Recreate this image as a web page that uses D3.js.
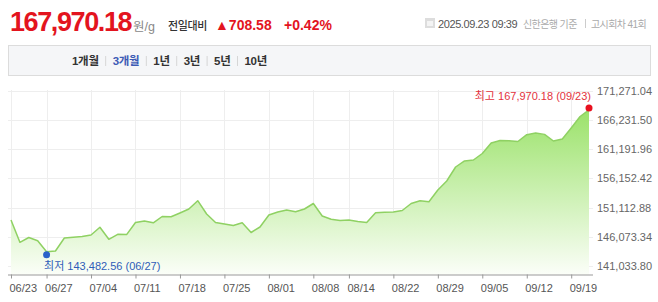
<!DOCTYPE html>
<html lang="ko">
<head>
<meta charset="utf-8">
<script src="https://cdn.jsdelivr.net/npm/d3@7"></script>
<style>
  body { margin: 0; background: #fff; }
  svg { display: block; font-family: "Liberation Sans", Arial, "Noto Sans CJK KR", sans-serif; }
</style>
</head>
<body>
<svg id="chart"></svg>
<script>
// Données : jours de cotation et prix (원/g)
const dates = [
  "06/23","06/24","06/25","06/26","06/27","06/30",
  "07/01","07/02","07/03","07/04","07/07","07/08","07/09","07/10","07/11","07/14","07/15","07/16","07/17","07/18",
  "07/21","07/22","07/23","07/24","07/25","07/28","07/29","07/30","07/31",
  "08/01","08/04","08/05","08/06","08/07","08/08","08/11","08/12","08/13","08/14","08/18","08/19","08/20","08/21","08/22",
  "08/25","08/26","08/27","08/28","08/29",
  "09/01","09/02","09/03","09/04","09/05","09/08","09/09","09/10","09/11","09/12","09/15","09/16","09/17","09/18","09/19",
  "09/22","09/23"
];
const prices = [
  148973.40, 145124.20, 145953.10, 145401.60, 143482.56, 143623.90,
  145867.30, 145987.50, 146125.80, 146384.20, 147713.60, 145642.10, 146505.30, 146450.70, 148542.90, 148801.40,
  148480.20, 149577.60, 149525.10, 150181.30, 150872.50, 152304.80, 150009.40, 148542.60, 148283.20, 148024.70,
  148507.30, 146816.90, 147765.40, 149836.20, 150354.80, 150699.10, 150406.50, 150872.30, 151821.60, 149664.20,
  149094.70, 148887.30, 148973.80, 148714.20, 148542.50, 150233.90, 150302.40, 150350.10, 150613.70, 151821.20,
  152304.60, 152132.90, 154151.30, 155704.80, 158120.40, 159156.20, 159329.70, 160450.10, 162263.80, 162694.30,
  162650.90, 162521.40, 163695.20, 163988.60, 163750.10, 162608.30, 162953.70, 164851.40, 166836.20, 167970.18
];
const yTicks = [141033.80, 146073.34, 151112.88, 156152.42, 161191.96, 166231.50, 171271.04];
const xTickLabels = ["06/23","06/27","07/04","07/11","07/18","07/25","08/01","08/08","08/14","08/22","08/29","09/05","09/12","09/19"];
const tabs = ["1개월", "3개월", "1년", "3년", "5년", "10년"];
const activeTab = "3개월";

// En-tête
const current = "167,970.18", change = "▲708.58", changePct = "+0.42%";
const stamp = "2025.09.23 09:39", source = "신한은행 기준", round = "고시회차 41회";

const width = 658, height = 302;
const svg = d3.select("#chart").attr("width", width).attr("height", height);
const red = "#e3141e";

svg.append("text").attr("x", 10).attr("y", 31)
  .attr("font-size", 27).attr("font-weight", "bold").attr("letter-spacing", -1.4)
  .attr("fill", red).text(current);
svg.append("text").attr("x", 133).attr("y", 31)
  .attr("font-size", 12.5).attr("fill", "#888").text("원/g");
svg.append("text").attr("x", 168).attr("y", 30)
  .attr("font-size", 11).attr("font-weight", 500).attr("letter-spacing", -0.4)
  .attr("fill", "#333").text("전일대비");
svg.append("text").attr("x", 215).attr("y", 30)
  .attr("font-size", 14).attr("font-weight", "bold").attr("fill", red).text(change);
svg.append("text").attr("x", 284).attr("y", 30)
  .attr("font-size", 14).attr("font-weight", "bold").attr("fill", red).text(changePct);

// Petite icône + date
const icon = svg.append("g").attr("transform", "translate(425,18)");
icon.append("rect").attr("width", 10).attr("height", 10).attr("fill", "#ddd");
icon.append("rect").attr("x", 2).attr("y", 3).attr("width", 6).attr("height", 5).attr("fill", "#f4f4f4");
svg.append("text").attr("x", 438).attr("y", 28)
  .attr("font-size", 11).attr("letter-spacing", -0.4).attr("fill", "#555").text(stamp);
svg.append("text").attr("x", 523).attr("y", 28)
  .attr("font-size", 10).attr("letter-spacing", -0.6).attr("fill", "#aaa").text(source);
svg.append("line").attr("x1", 585.5).attr("x2", 585.5).attr("y1", 19).attr("y2", 28)
  .attr("stroke", "#ccc");
svg.append("text").attr("x", 591).attr("y", 28)
  .attr("font-size", 10).attr("letter-spacing", -0.6).attr("fill", "#aaa").text(round);

// Barre d'onglets
svg.append("rect").attr("x", 8.5).attr("y", 45.5).attr("width", 642).attr("height", 30)
  .attr("fill", "#f5f6f8").attr("stroke", "#dcdcdc");
let tx = 72;
tabs.forEach((t, i) => {
  const el = svg.append("text").attr("x", tx).attr("y", 65)
    .attr("font-size", 11.5).attr("font-weight", "bold").attr("letter-spacing", -0.3)
    .attr("fill", t === activeTab ? "#3d5bb5" : "#333").text(t);
  tx += el.node().getComputedTextLength();
  if (i < tabs.length - 1) {
    svg.append("line").attr("x1", tx + 7).attr("x2", tx + 7).attr("y1", 56).attr("y2", 66)
      .attr("stroke", "#d6d6d6");
    tx += 14;
  }
});

// Échelles
const x = d3.scalePoint().domain(dates).range([11, 589]);
const y = d3.scaleLinear().domain([yTicks[0], yTicks[yTicks.length - 1]]).range([266, 90.8]);
const axisY = 274.5, plotTop = 90, plotLeft = 8, plotRight = 593;
const fmt = d3.format(",.2f");

// Grille
svg.append("g").selectAll("line").data(yTicks).enter().append("line")
  .attr("x1", plotLeft).attr("x2", plotRight)
  .attr("y1", d => Math.round(y(d)) + 0.5).attr("y2", d => Math.round(y(d)) + 0.5)
  .attr("stroke", "#eeeeee");
svg.append("g").selectAll("line").data(xTickLabels).enter().append("line")
  .attr("x1", d => Math.round(x(d)) + 0.5).attr("x2", d => Math.round(x(d)) + 0.5)
  .attr("y1", plotTop).attr("y2", axisY)
  .attr("stroke", "#eeeeee");

// Zone + ligne
const defs = svg.append("defs");
const grad = defs.append("linearGradient").attr("id", "fillGrad")
  .attr("gradientUnits", "userSpaceOnUse")
  .attr("x1", 0).attr("x2", 0).attr("y1", y(d3.max(prices))).attr("y2", axisY);
grad.append("stop").attr("offset", "0%").attr("stop-color", "#9be26a");
grad.append("stop").attr("offset", "100%").attr("stop-color", "#fbfef8");

svg.append("path").datum(prices)
  .attr("fill", "url(#fillGrad)")
  .attr("d", d3.area().x((d, i) => x(dates[i])).y0(axisY).y1(d => y(d)));
svg.append("path").datum(prices)
  .attr("fill", "none").attr("stroke", "#8fd163").attr("stroke-width", 1.5)
  .attr("stroke-linejoin", "round")
  .attr("d", d3.line().x((d, i) => x(dates[i])).y(d => y(d)));

// Axe du bas
const xAxis = svg.append("g").attr("transform", `translate(0,${axisY})`)
  .call(d3.axisBottom(x).tickValues(xTickLabels).tickSize(4).tickFormat(""));
xAxis.select(".domain").attr("d", `M${plotLeft},0.5H${plotRight}`).attr("stroke", "#999");
xAxis.selectAll(".tick line").attr("stroke", "#999");
svg.append("g").selectAll("text").data(xTickLabels).enter().append("text")
  .attr("x", d => x(d) - 1.5).attr("y", 292)
  .attr("font-size", 11).attr("fill", "#555").text(d => d);

// Axe de droite
svg.append("g").selectAll("text").data(yTicks).enter().append("text")
  .attr("x", 597).attr("y", d => y(d) + 4)
  .attr("font-size", 11).attr("fill", "#666").text(d => fmt(d));

// Marqueurs min / max
const iMax = d3.maxIndex(prices), iMin = d3.minIndex(prices);
svg.append("circle").attr("cx", x(dates[iMax])).attr("cy", y(prices[iMax]) - 2)
  .attr("r", 3.5).attr("fill", "#e8101e");
svg.append("text").attr("x", x(dates[iMax]) + 2).attr("y", y(prices[iMax]) - 10)
  .attr("text-anchor", "end").attr("font-size", 11).attr("fill", "#e3323c")
  .text(`최고 ${fmt(prices[iMax])} (${dates[iMax]})`);
svg.append("circle").attr("cx", x(dates[iMin])).attr("cy", y(prices[iMin]) + 3)
  .attr("r", 3.5).attr("fill", "#2a62c9");
svg.append("text").attr("x", x(dates[iMin]) - 2.5).attr("y", y(prices[iMin]) + 18)
  .attr("font-size", 11).attr("fill", "#2f5db8")
  .text(`최저 ${fmt(prices[iMin])} (${dates[iMin]})`);
</script>
</body>
</html>
